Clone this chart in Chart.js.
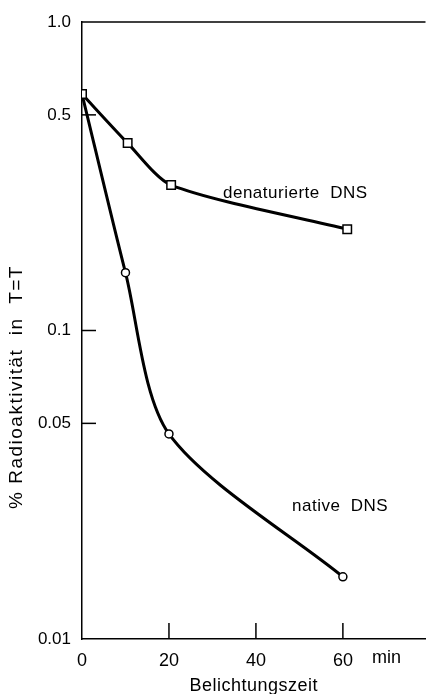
<!DOCTYPE html>
<html lang="de">
<head>
    <meta charset="UTF-8">
    <title>Radioaktivität in T=T</title>
    <style>
        body {
            margin: 0;
            padding: 0;
            background: #fff;
        }
        .chart-box {
            width: 433px;
            height: 694px;
            position: relative;
        }
    </style>
</head>
<body>
    <div class="chart-box">
        <canvas id="dnsChart"></canvas>
    </div>

    <script src="https://cdn.jsdelivr.net/npm/chart.js"></script>
    <script>
        // values
        const denatTimes = [0, 10.5, 20.5, 61];
        const denatValues = [0.584, 0.405, 0.296, 0.213];
        const nativeTimes = [0, 10, 20, 60];
        const nativeValues = [0.584, 0.154, 0.0462, 0.0159];
        const xTicks = [0, 20, 40, 60];
        const yTicks = [0.01, 0.05, 0.1, 0.5, 1];
        const yTickLabels = ['0.01', '0.05', '0.1', '0.5', '1.0'];

        const FONT = '"Liberation Sans", Arial, sans-serif';

        function toPoints(xs, ys) {
            return xs.map((x, i) => ({ x: x, y: ys[i] }));
        }

        // inward ticks, top line and loose labels
        const extras = {
            id: 'extras',
            afterDraw(chart) {
                const ctx = chart.ctx;
                const area = chart.chartArea;
                const xs = chart.scales.x;
                const ys = chart.scales.y;
                ctx.save();
                ctx.strokeStyle = '#000';
                ctx.lineWidth = 1.5;

                // line along 1.0
                ctx.beginPath();
                ctx.moveTo(area.left, ys.getPixelForValue(1));
                ctx.lineTo(area.right, ys.getPixelForValue(1));
                ctx.stroke();

                // short ticks on y axis
                [0.5, 0.1, 0.05].forEach(v => {
                    const py = ys.getPixelForValue(v);
                    ctx.beginPath();
                    ctx.moveTo(area.left, py);
                    ctx.lineTo(area.left + 14, py);
                    ctx.stroke();
                });
                // short ticks on x axis
                [20, 40, 60].forEach(v => {
                    const px = xs.getPixelForValue(v);
                    ctx.beginPath();
                    ctx.moveTo(px, area.bottom);
                    ctx.lineTo(px, area.bottom - 16);
                    ctx.stroke();
                });

                ctx.fillStyle = '#000';
                ctx.textBaseline = 'middle';
                ctx.textAlign = 'left';
                ctx.font = '18px ' + FONT;
                ctx.fillText('min', xs.getPixelForValue(60) + 29, area.bottom + 19);

                ctx.letterSpacing = '0.5px';
                ctx.font = '17px ' + FONT;
                ctx.fillText('denaturierte  DNS', 223, 193);
                ctx.fillText('native  DNS', 292, 506);

                // x axis title
                ctx.textAlign = 'center';
                ctx.font = '18px ' + FONT;
                ctx.fillText('Belichtungszeit', (area.left + area.right) / 2, 686);

                // y axis title
                ctx.letterSpacing = '1.5px';
                ctx.font = '19px ' + FONT;
                ctx.translate(17, 387);
                ctx.rotate(-Math.PI / 2);
                ctx.fillText('% Radioaktivität  in  T=T', 0, 0);
                ctx.restore();
            }
        };

        const ctxDns = document.getElementById('dnsChart').getContext('2d');
        new Chart(ctxDns, {
            type: 'line',
            data: {
                datasets: [{
                    label: 'denaturierte DNS',
                    data: toPoints(denatTimes, denatValues),
                    borderColor: '#000',
                    borderWidth: 3,
                    tension: 0.25,
                    pointStyle: 'rect',
                    pointRadius: 6,
                    pointBorderWidth: 1.5,
                    pointBackgroundColor: '#fff',
                    pointBorderColor: '#000'
                }, {
                    label: 'native DNS',
                    data: toPoints(nativeTimes, nativeValues),
                    borderColor: '#000',
                    borderWidth: 3,
                    tension: 0.28,
                    pointStyle: 'circle',
                    pointRadius: 4,
                    pointBorderWidth: 1.5,
                    pointBackgroundColor: '#fff',
                    pointBorderColor: '#000'
                }]
            },
            options: {
                responsive: true,
                maintainAspectRatio: false,
                animation: false,
                layout: {
                    padding: { top: 22, right: 0, left: 0, bottom: 0 }
                },
                plugins: {
                    legend: { display: false },
                    tooltip: { enabled: false }
                },
                scales: {
                    x: {
                        type: 'linear',
                        min: 0,
                        max: 79,
                        afterBuildTicks: scale => {
                            scale.ticks = xTicks.map(v => ({ value: v }));
                        },
                        afterFit: scale => { scale.height = 55; },
                        grid: { display: false },
                        border: { display: true, color: '#000', width: 1.5 },
                        ticks: {
                            color: '#000',
                            padding: 3,
                            font: { family: FONT, size: 18 },
                            maxRotation: 0
                        }
                    },
                    y: {
                        type: 'logarithmic',
                        min: 0.01,
                        max: 1,
                        afterBuildTicks: scale => {
                            scale.ticks = yTicks.map(v => ({ value: v }));
                        },
                        afterFit: scale => { scale.width = 82; },
                        grid: { display: false },
                        border: { display: true, color: '#000', width: 1.5 },
                        ticks: {
                            color: '#000',
                            padding: 3,
                            font: { family: FONT, size: 17 },
                            callback: function(value) {
                                const i = yTicks.indexOf(value);
                                return i >= 0 ? yTickLabels[i] : '';
                            }
                        }
                    }
                }
            },
            plugins: [extras]
        });
    </script>
</body>
</html>
